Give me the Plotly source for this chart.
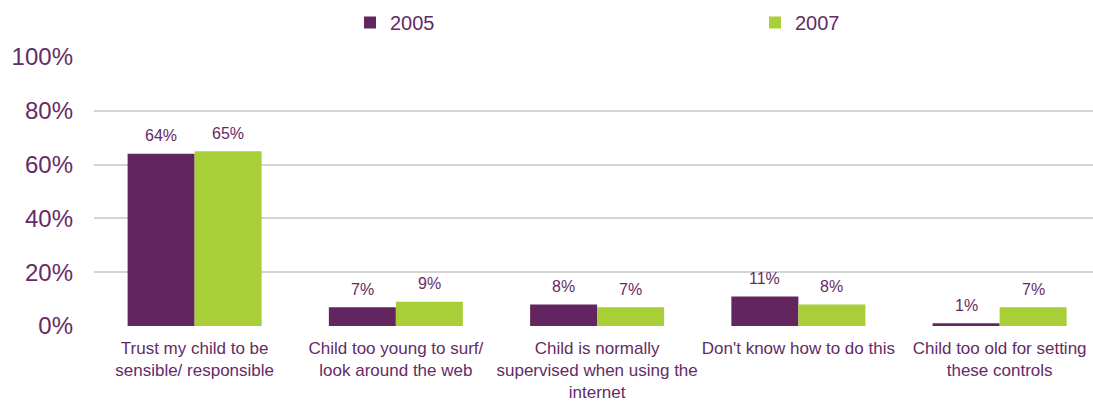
import plotly.graph_objects as go

categories = [
    "Trust my child to be<br>sensible/ responsible",
    "Child too young to surf/<br>look around the web",
    "Child is normally<br>supervised when using the<br>internet",
    "Don't know how to do this",
    "Child too old for setting<br>these controls",
]
values_2005 = [64, 7, 8, 11, 1]
values_2007 = [65, 9, 7, 8, 7]
y_ticks = [0, 20, 40, 60, 80, 100]
y_tick_labels = ["0%", "20%", "40%", "60%", "80%", "100%"]

PURPLE = "#622560"
GREEN = "#A8CE38"
TEXT = "#652B66"
FONT = "Liberation Sans, Arial, sans-serif"
W, H = 1093, 401

fig = go.Figure()
fig.add_trace(go.Bar(name="2005", x=categories, y=values_2005, marker_color=PURPLE,
                     marker_line_width=0, legend="legend"))
fig.add_trace(go.Bar(name="2007", x=categories, y=values_2007, marker_color=GREEN,
                     marker_line_width=0, legend="legend2"))

# value labels above each bar
for vals, shift in ((values_2005, -33.5), (values_2007, 33.5)):
    for cat, v in zip(categories, vals):
        fig.add_annotation(x=cat, y=v, text=f"{v}%", showarrow=False,
                           xshift=shift, yshift=18, yanchor="middle",
                           font=dict(size=16, color=TEXT, family=FONT))

legend_common = dict(orientation="h", xref="container", yref="container",
                     xanchor="left", yanchor="top", y=1 - 3 / H,
                     bgcolor="rgba(0,0,0,0)", borderwidth=0,
                     font=dict(size=20, color=TEXT, family=FONT))

fig.update_layout(
    width=W, height=H,
    margin=dict(l=94, r=0, t=57, b=75),
    paper_bgcolor="white", plot_bgcolor="white",
    barmode="group", bargap=0.334, bargroupgap=0,
    font=dict(family=FONT, color=TEXT),
    showlegend=True,
    legend=dict(x=350 / W, **legend_common),
    legend2=dict(x=755 / W, **legend_common),
    xaxis=dict(range=[-0.5, 4.464], showgrid=False, showline=False, ticks="",
               ticklabelstandoff=10,
               tickfont=dict(size=17, color=TEXT, family=FONT)),
    yaxis=dict(range=[0, 100], tickvals=y_ticks, ticktext=y_tick_labels,
               showgrid=True, gridcolor="#D4D4D4", gridwidth=2,
               zeroline=False, showline=False, ticks="", ticklabelstandoff=20,
               tickfont=dict(size=24, color=TEXT, family=FONT)),
)

fig.write_html("out.html")
